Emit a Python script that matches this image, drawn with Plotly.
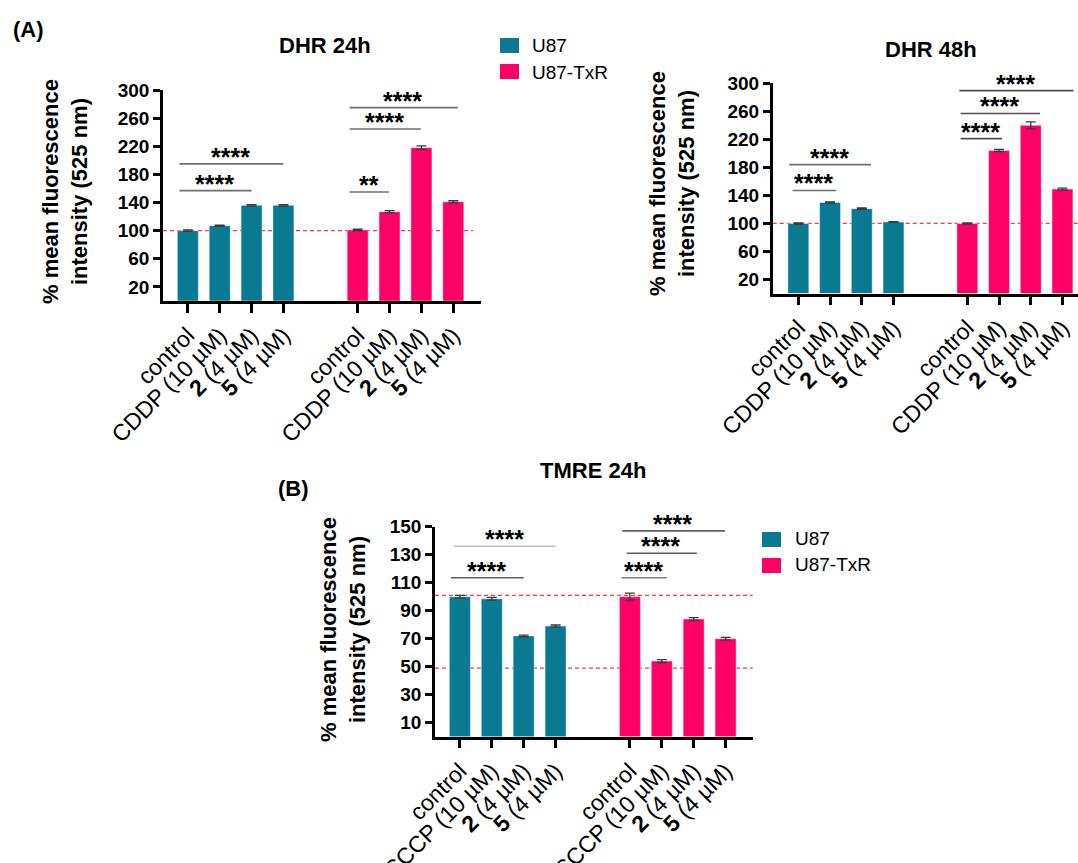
import plotly.graph_objects as go

FONT = "Liberation Sans, Arial, Helvetica, sans-serif"
W, H = 1078, 863

# ---- data -------------------------------------------------------------
cell_lines = ["U87", "U87-TxR"]
bar_colors = ["#0A7A92", "#FF0066"]

dhr_labels = ["control", "CDDP (10 µM)", "<b>2</b> (4 µM)", "<b>5</b> (4 µM)"]
tmre_labels = ["control", "CCCP (10 µM)", "<b>2</b> (4 µM)", "<b>5</b> (4 µM)"]

dhr24_u87 = [100, 107, 136, 136]
dhr24_u87_err = [1, 1, 1, 1]
dhr24_txr = [101, 127, 218, 141]
dhr24_txr_err = [1, 1.5, 2.5, 1.5]

dhr48_u87 = [100, 130, 121, 102]
dhr48_u87_err = [0.8, 0.8, 1, 0.5]
dhr48_txr = [100, 204, 240, 149]
dhr48_txr_err = [0.8, 1.5, 5, 1.5]

tmre_u87 = [100, 98.5, 72, 79]
tmre_u87_err = [1, 1, 0.6, 0.8]
tmre_txr = [100, 54, 84, 70]
tmre_txr_err = [2.5, 1, 1, 1]

# significance brackets: (start, end, height, stars, line colour)
dhr24_sig = [(-0.31, 3.0, 195, "****", "#707070"),
             (-0.31, 2.0, 157, "****", "#707070"),
             (5.03, 6.31, 155, "**", "#707070"),
             (5.03, 7.31, 244.5, "****", "#707070"),
             (5.03, 8.47, 275, "****", "#707070")]
dhr48_sig = [(-0.33, 2.29, 184, "****", "#707070"),
             (-0.23, 1.19, 147, "****", "#707070"),
             (5.07, 6.42, 221, "****", "#505050"),
             (5.07, 7.62, 257, "****", "#505050"),
             (5.03, 8.68, 289.5, "****", "#505050")]
tmre_sig = [(-0.23, 3.0, 136, "****", "#c0c0c0"),
            (-0.33, 2.0, 113.5, "****", "#606060"),
            (5.05, 8.31, 147, "****", "#606060"),
            (5.18, 7.43, 131, "****", "#606060"),
            (5.02, 6.49, 113.5, "****", "#808080")]

# dashed reference levels
dhr_ref = [100]
tmre_ref = [101, 49]

GROUP_OFFSET = 5.33
pos_u87 = [i for i in range(4)]
pos_txr = [i + GROUP_OFFSET for i in range(4)]


def px(x):
    return x / W


def py(y):
    return 1 - y / H


fig = go.Figure()
annotations = []
shapes = []

panels = [
    dict(ax="", title="DHR 24h", labels=dhr_labels,
         vals=[(dhr24_u87, dhr24_u87_err), (dhr24_txr, dhr24_txr_err)],
         sig=dhr24_sig, ref=dhr_ref, ref_end=0.975,
         xdom=[px(163), px(481)], ydom=[py(301), py(90)],
         xrange=[-0.78, 9.2], yrange=[0, 300], ticks=list(range(20, 301, 40)),
         title_xy=(325, 46), ylab_xy=(65, 192)),
    dict(ax="2", title="DHR 48h", labels=dhr_labels,
         vals=[(dhr48_u87, dhr48_u87_err), (dhr48_txr, dhr48_txr_err)],
         sig=dhr48_sig, ref=dhr_ref, ref_end=1.0,
         xdom=[px(772.7), 1.0], ydom=[py(293.5), py(83.3)],
         xrange=[-0.81, 8.82], yrange=[0, 300], ticks=list(range(20, 301, 40)),
         title_xy=(931, 50), ylab_xy=(672, 184)),
    dict(ax="3", title="TMRE 24h", labels=tmre_labels,
         vals=[(tmre_u87, tmre_u87_err), (tmre_txr, tmre_txr_err)],
         sig=tmre_sig, ref=tmre_ref, ref_end=1.0,
         xdom=[px(435), px(752.7)], ydom=[py(736.7), py(526.7)],
         xrange=[-0.78, 9.18], yrange=[0, 150], ticks=list(range(10, 151, 20)),
         title_xy=(593, 470), ylab_xy=(343, 630)),
]

layout_axes = {}
for p in panels:
    xa, ya = "x" + p["ax"], "y" + p["ax"]
    for (vals, err), pos, name, col in zip(p["vals"], [pos_u87, pos_txr], cell_lines, bar_colors):
        fig.add_trace(go.Bar(
            x=pos, y=vals, name=name, xaxis=xa, yaxis=ya, width=0.66,
            marker=dict(color=col, line=dict(color="rgba(255,255,255,0.45)", width=1)),
            error_y=dict(type="data", array=err, visible=True, color="#3a3a3a",
                         thickness=1.3, width=5),
            showlegend=False))

    layout_axes["xaxis" + p["ax"]] = dict(
        domain=p["xdom"], range=p["xrange"], anchor=ya, automargin=False,
        tickmode="array", tickvals=pos_u87 + pos_txr, ticktext=p["labels"] * 2,
        tickangle=-45, ticks="outside", ticklen=9, tickwidth=3, tickcolor="black",
        showline=True, linecolor="black", linewidth=2.5, showgrid=False, zeroline=False,
        tickfont=dict(family=FONT, size=23, color="black"), fixedrange=True)
    layout_axes["yaxis" + p["ax"]] = dict(
        domain=p["ydom"], range=p["yrange"], anchor=xa, automargin=False,
        tickmode="array", tickvals=p["ticks"],
        ticks="outside", ticklen=7, tickwidth=2.5, tickcolor="black",
        showline=True, linecolor="black", linewidth=2.5, showgrid=False, zeroline=False,
        tickfont=dict(family=FONT, size=19, color="black", weight="bold"), fixedrange=True)

    # dashed reference levels behind the bars
    for level in p["ref"]:
        shapes.append(dict(type="line", xref=xa + " domain", yref=ya,
                           x0=0, x1=p["ref_end"], y0=level, y1=level, layer="below",
                           line=dict(color="#FF3B3B", width=1.3, dash="4px,3px")))

    # significance brackets with star labels
    for x0, x1, h, stars, lc in p["sig"]:
        annotations.append(dict(x=x1, y=h, ax=x0, ay=h, xref=xa, yref=ya,
                                axref=xa, ayref=ya, text="", showarrow=True,
                                arrowhead=0, arrowwidth=1.6, arrowcolor=lc,
                                standoff=0, startstandoff=0))
        annotations.append(dict(x=(x0 + x1) / 2, y=h, xref=xa, yref=ya,
                                text=stars, showarrow=False, yanchor="bottom",
                                yshift=-9,
                                font=dict(family=FONT, size=25, color="black",
                                          weight="bold")))

    # panel title
    tx, ty = p["title_xy"]
    annotations.append(dict(x=px(tx), y=py(ty), xref="paper", yref="paper",
                            text=p["title"], showarrow=False,
                            xanchor="center", yanchor="middle",
                            font=dict(family=FONT, size=22, color="black", weight="bold")))
    # y-axis title
    lx, ly = p["ylab_xy"]
    annotations.append(dict(x=px(lx), y=py(ly), xref="paper", yref="paper",
                            text="% mean fluorescence<br>intensity (525 nm)",
                            textangle=-90, showarrow=False,
                            xanchor="center", yanchor="middle",
                            font=dict(family=FONT, size=22, color="black", weight="bold")))

# panel letters
for letter, (lx, ly) in [("(A)", (11, 29)), ("(B)", (276, 488))]:
    annotations.append(dict(x=px(lx), y=py(ly), xref="paper", yref="paper",
                            text=letter, showarrow=False, xanchor="left", yanchor="middle",
                            font=dict(family=FONT, size=22, color="black", weight="bold")))

# colour keys for the two cell lines
for (sx, sy), (tx, ty) in [((500, 38), (530, 46)), ((762, 532), (793, 538))]:
    for i, (name, col) in enumerate(zip(cell_lines, bar_colors)):
        dy = i * 26
        shapes.append(dict(type="rect", xref="paper", yref="paper",
                           x0=px(sx), x1=px(sx + 19), y0=py(sy + dy), y1=py(sy + dy + 15),
                           fillcolor=col, line=dict(width=0)))
        annotations.append(dict(x=px(tx), y=py(ty + dy), xref="paper", yref="paper",
                                text=name, showarrow=False, xanchor="left", yanchor="middle",
                                font=dict(family=FONT, size=19, color="black")))

fig.update_layout(
    width=W, height=H, margin=dict(l=0, r=0, t=0, b=0, autoexpand=False),
    paper_bgcolor="white", plot_bgcolor="white",
    barmode="overlay", showlegend=False,
    font=dict(family=FONT, color="black"),
    annotations=annotations, shapes=shapes,
    **layout_axes)

fig.write_html("out.html")
